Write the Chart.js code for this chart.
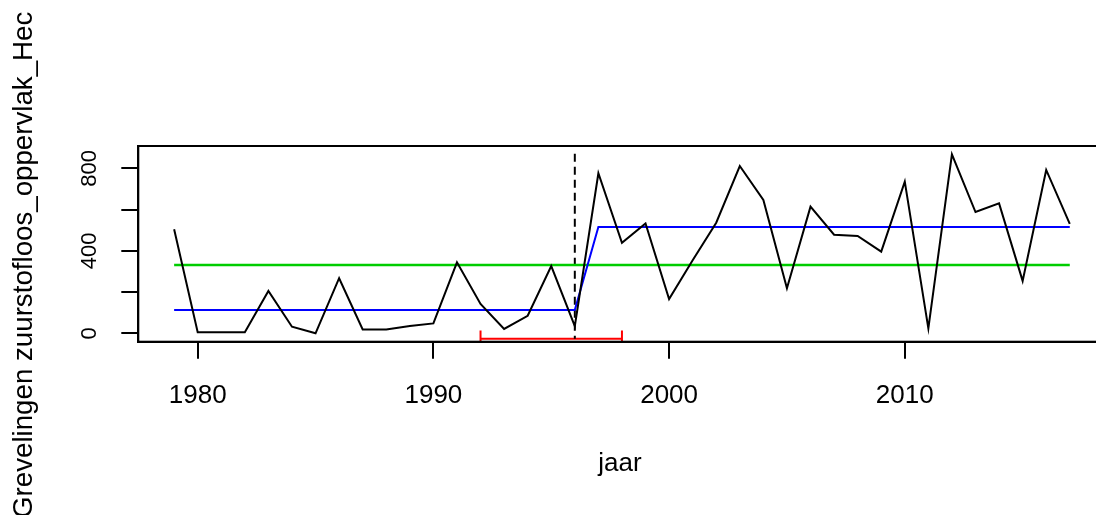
<!DOCTYPE html>
<html>
<head>
<meta charset="utf-8">
<script src="https://cdn.jsdelivr.net/npm/chart.js@4.4.1/dist/chart.umd.min.js"></script>
<style>
  html, body { margin: 0; padding: 0; background: #fff; }
  #wrap { width: 1096px; height: 515px; overflow: hidden; }
  canvas { display: block; }
</style>
</head>
<body>
<div id="wrap"><canvas id="grafiek" width="1110" height="515"></canvas></div>
<script>
// --- gegevens ---
const jaren = [1979, 1980, 1981, 1982, 1983, 1984, 1985, 1986, 1987, 1988,
  1989, 1990, 1991, 1992, 1993, 1994, 1995, 1996, 1997, 1998,
  1999, 2000, 2001, 2002, 2003, 2004, 2005, 2006, 2007, 2008,
  2009, 2010, 2011, 2012, 2013, 2014, 2015, 2016, 2017];
const oppervlak = [504, 5, 5, 5, 205, 32, 0, 267, 19, 19,
  35, 48, 344, 142, 21, 85, 326, 35, 776, 439,
  533, 166, 354, 536, 811, 646, 218, 614, 478, 472,
  396, 735, 24, 868, 588, 630, 254, 792, 530];

// stapmodel (blauw) en gemiddelde (groen)
const stapJaren = [1979, 1996, 1997, 2017];
const stapWaarden = [113, 113, 515, 515];
const gemJaren = [1979, 2017];
const gemWaarden = [331, 331];

// breekpunt (gestreept) en betrouwbaarheidsinterval (rood)
const breukJaren = [1996, 1996];
const breukWaarden = [870, -27];
const intervalJaren = [1992, 1998];
const intervalWaarde = -27;
const kapWaarden = [13, -67];

const yLabels = [0, 400, 800];
const xTitel = "jaar";
const yTitel = "Grevelingen zuurstofloos_oppervlak_Hec";

const punten = (xs, ys) => xs.map((x, i) => ({ x, y: ys[i] }));
const lijn = (data, kleur, breedte, extra) => Object.assign({
  data, borderColor: kleur, borderWidth: breedte, pointRadius: 0,
  tension: 0, fill: false, clip: 0
}, extra || {});

const lettertype = "'Liberation Sans', Arial, sans-serif";

// kader, aslabels en titels in R-stijl
const kaderPlugin = {
  id: "kader",
  afterDraw(chart) {
    const { ctx, chartArea: a, scales } = chart;
    ctx.save();
    ctx.strokeStyle = "#000";
    ctx.lineWidth = 2;
    ctx.strokeRect(a.left, a.top, a.right - a.left, a.bottom - a.top);
    ctx.fillStyle = "#000";

    ctx.font = "26px " + lettertype;
    ctx.textAlign = "center";
    ctx.textBaseline = "alphabetic";
    scales.x.ticks.forEach(t => {
      ctx.fillText(String(t.value), scales.x.getPixelForValue(t.value), 403);
    });
    ctx.fillText(xTitel, (a.left + a.right) / 2 - 2, 471);

    ctx.font = "22px " + lettertype;
    yLabels.forEach(v => {
      ctx.save();
      ctx.translate(96, scales.y.getPixelForValue(v));
      ctx.rotate(-Math.PI / 2);
      ctx.fillText(String(v), 0, 0);
      ctx.restore();
    });

    ctx.font = "27.7px " + lettertype;
    ctx.textAlign = "left";
    ctx.translate(32, 518);
    ctx.rotate(-Math.PI / 2);
    ctx.fillText(yTitel, 0, 0);
    ctx.restore();
  }
};

new Chart(document.getElementById("grafiek"), {
  type: "line",
  data: {
    datasets: [
      lijn(punten(jaren, oppervlak), "#000000", 2),
      lijn(punten(stapJaren, stapWaarden), "#0000ff", 2),
      lijn(punten(gemJaren, gemWaarden), "#00cd00", 2.5),
      lijn(punten(breukJaren, breukWaarden), "#000000", 2, { borderDash: [8, 5] }),
      lijn(punten(intervalJaren, [intervalWaarde, intervalWaarde]), "#ff0000", 2, { clip: false }),
      lijn(punten([intervalJaren[0], intervalJaren[0]], kapWaarden), "#ff0000", 2),
      lijn(punten([intervalJaren[1], intervalJaren[1]], kapWaarden), "#ff0000", 2)
    ]
  },
  options: {
    responsive: false,
    devicePixelRatio: 1,
    animation: false,
    layout: { padding: { top: 146, right: 4.4, left: 0, bottom: 0 } },
    plugins: { legend: { display: false }, tooltip: { enabled: false } },
    scales: {
      x: {
        type: "linear",
        min: 1977.48,
        max: 2018.52,
        ticks: { display: false, stepSize: 10, includeBounds: false },
        grid: { drawOnChartArea: false, drawTicks: true, tickLength: 17, color: "#000", lineWidth: 2 },
        border: { display: true, color: "#000", width: 2 },
        afterFit: s => { s.height = 173.3; }
      },
      y: {
        min: -40.7,
        max: 908,
        ticks: { display: false, stepSize: 200, includeBounds: false },
        grid: { drawOnChartArea: false, drawTicks: true, tickLength: 17, color: "#000", lineWidth: 2 },
        border: { display: true, color: "#000", width: 2 },
        afterFit: s => { s.width = 138.3; }
      }
    }
  },
  plugins: [kaderPlugin]
});
</script>
</body>
</html>
